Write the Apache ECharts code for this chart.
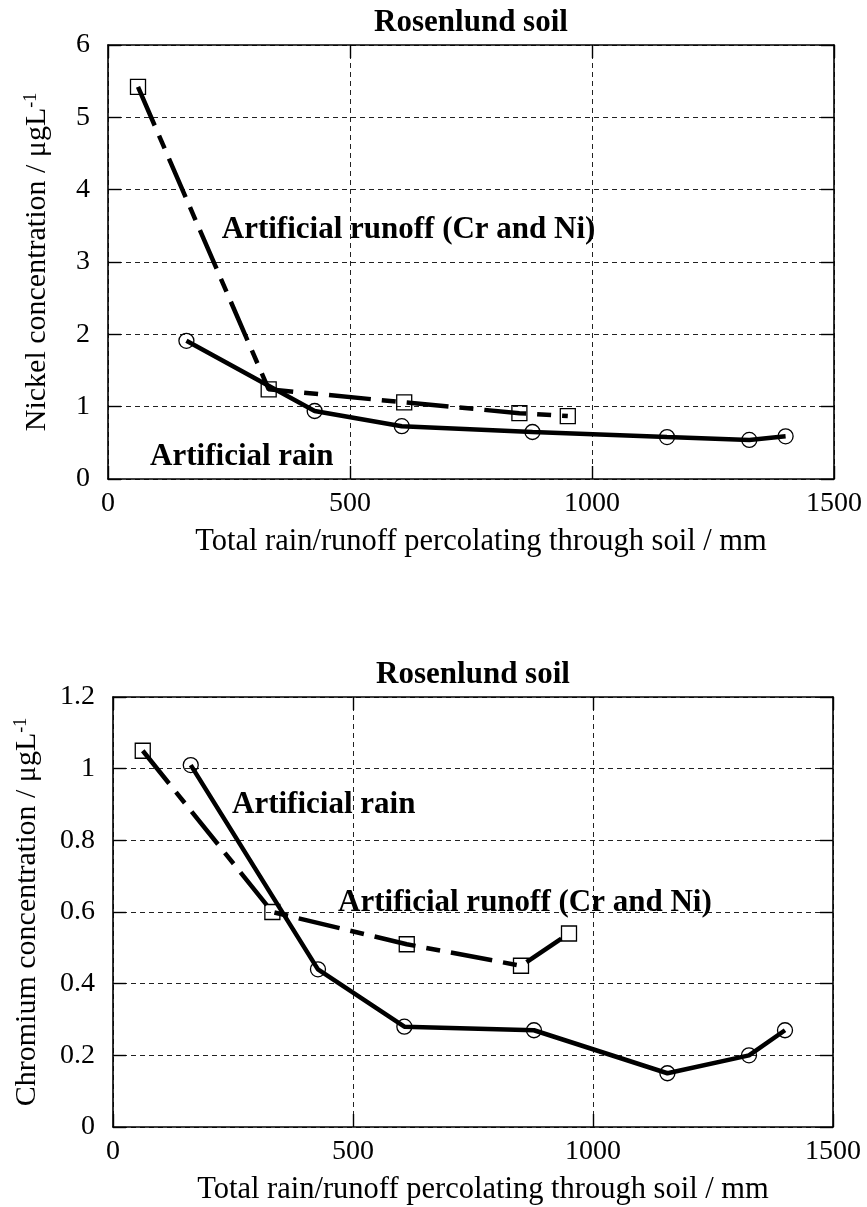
<!DOCTYPE html>
<html><head><meta charset="utf-8">
<script src="https://cdn.jsdelivr.net/npm/echarts/dist/echarts.min.js"></script>
<style>html,body{margin:0;padding:0;background:#fff}#c{width:867px;height:1207px}</style>
</head><body><div id="c"></div>
<script>
// ---- data ----
const xTickValues = [0, 500, 1000, 1500];
const runoffX = [62, 332, 612, 850, 950];
const rainX = [162, 427, 607, 877, 1155, 1325, 1400];
const nickelRunoff = [5.42, 1.24, 1.06, 0.91, 0.87];
const nickelRain = [1.91, 0.94, 0.73, 0.65, 0.58, 0.54, 0.59];
const chromiumRunoff = [1.05, 0.60, 0.51, 0.45, 0.54];
const chromiumRain = [1.01, 0.44, 0.28, 0.27, 0.15, 0.20, 0.27];
const chartTitle = 'Rosenlund soil';
const xTitle = 'Total rain/runoff percolating through soil / mm';
const nickelTitle = 'Nickel concentration / μgL';
const chromiumTitle = 'Chromium concentration / μgL';
const runoffLabel = 'Artificial runoff (Cr and Ni)';
const rainLabel = 'Artificial rain';

// ---- layout / style ----
const FONT = '"Liberation Serif", "Times New Roman", serif';
const grids = [
  {left: 108, top: 45, width: 726, height: 434},
  {left: 113, top: 697, width: 720, height: 430}
];
const yRanges = [{min: 0, max: 6, interval: 1}, {min: 0, max: 1.2, interval: 0.2}];
const yNameGaps = [56, 71];
const annotations = [
  {grid: 0, series: 0, text: runoffLabel, at: [235, 3.44]},
  {grid: 0, series: 1, text: rainLabel, at: [87, 0.30]},
  {grid: 1, series: 3, text: rainLabel, at: [248, 0.90]},
  {grid: 1, series: 2, text: runoffLabel, at: [469, 0.625]}
];

const pairs = (xs, ys) => xs.map((x, i) => [x, ys[i]]);
const gridLine = {show: true, lineStyle: {color: '#222', width: 1, type: [5, 4]}};
const frameLine = {show: true, onZero: false, lineStyle: {color: '#000', width: 1.6}};
const tick = {show: true, inside: true, length: 13, lineStyle: {color: '#000', width: 1.4}};
const labelStyle = {color: '#000', fontFamily: FONT, fontSize: 28};

const xAxes = [], yAxes = [];
grids.forEach((g, gi) => {
  xAxes.push({
    type: 'value', gridIndex: gi, position: 'bottom', min: 0, max: 1500, interval: 500,
    axisLine: frameLine, axisTick: tick, splitLine: gridLine,
    axisLabel: Object.assign({margin: 11, showMinLabel: true, showMaxLabel: true,
      formatter: v => xTickValues.includes(v) ? String(v) : ''}, labelStyle),
    name: xTitle, nameLocation: 'middle', nameGap: 47,
    nameTextStyle: {color: '#000', fontFamily: FONT, fontSize: 30.5, padding: [0, 0, 0, 20]}
  });
  xAxes.push({
    type: 'value', gridIndex: gi, position: 'top', min: 0, max: 1500, interval: 500,
    axisLine: frameLine, axisTick: tick, splitLine: {show: false}, axisLabel: {show: false}
  });
  const yr = yRanges[gi];
  const rich = {
    a: {fontSize: 30, fontFamily: FONT, color: '#000'},
    s: {fontSize: 18, fontFamily: FONT, color: '#000', verticalAlign: 'top'}
  };
  yAxes.push({
    type: 'value', gridIndex: gi, position: 'left', min: yr.min, max: yr.max, interval: yr.interval,
    axisLine: frameLine, axisTick: tick, splitLine: gridLine,
    axisLabel: Object.assign({margin: 18, showMinLabel: true, showMaxLabel: true,
      formatter: v => String(Math.round(v * 10) / 10)}, labelStyle),
    name: '{a|' + (gi === 0 ? nickelTitle : chromiumTitle) + '}{s|-1}',
    nameLocation: 'middle', nameGap: yNameGaps[gi], nameRotate: 90,
    nameTextStyle: {rich: rich}
  });
  yAxes.push({
    type: 'value', gridIndex: gi, position: 'right', min: yr.min, max: yr.max, interval: yr.interval,
    axisLine: frameLine, axisTick: tick, splitLine: {show: false}, axisLabel: {show: false}
  });
});

const hollow = (sym) => ({
  symbol: sym, symbolSize: 15,
  itemStyle: {color: 'rgba(0,0,0,0)', borderColor: '#000', borderWidth: 1.3}
});
const solidLine = {color: '#000', width: 4.5, type: 'solid', cap: 'butt'};
const dashLine = {color: '#000', width: 4.5, type: [42, 11, 14, 11], cap: 'butt'};

const series = [
  Object.assign({type: 'line', xAxisIndex: 0, yAxisIndex: 0, data: pairs(runoffX, nickelRunoff),
    lineStyle: dashLine}, hollow('rect')),
  Object.assign({type: 'line', xAxisIndex: 0, yAxisIndex: 0, data: pairs(rainX, nickelRain),
    lineStyle: solidLine}, hollow('circle')),
  Object.assign({type: 'line', xAxisIndex: 2, yAxisIndex: 2, data: pairs(runoffX, chromiumRunoff),
    lineStyle: dashLine}, hollow('rect')),
  Object.assign({type: 'line', xAxisIndex: 2, yAxisIndex: 2, data: pairs(rainX, chromiumRain),
    lineStyle: solidLine}, hollow('circle'))
];
series.forEach(s => { s.animation = false; s.silent = true; s.emphasis = {disabled: true}; });

const chart = echarts.init(document.getElementById('c'), null, {renderer: 'canvas'});
chart.setOption({
  backgroundColor: '#fff',
  animation: false,
  grid: grids,
  xAxis: xAxes,
  yAxis: yAxes,
  series: series
});

const boldText = {fill: '#000', font: 'bold 31px ' + FONT};
const graphics = [];
grids.forEach(g => {
  graphics.push({type: 'text', x: g.left + g.width / 2, y: g.top - 22,
    style: Object.assign({text: chartTitle, align: 'center', verticalAlign: 'middle'}, boldText)});
});
annotations.forEach(a => {
  const p = chart.convertToPixel({seriesIndex: a.series}, a.at);
  graphics.push({type: 'text', x: p[0], y: p[1],
    style: Object.assign({text: a.text, align: 'left', verticalAlign: 'middle'}, boldText)});
});
chart.setOption({graphic: graphics});
</script></body></html>
